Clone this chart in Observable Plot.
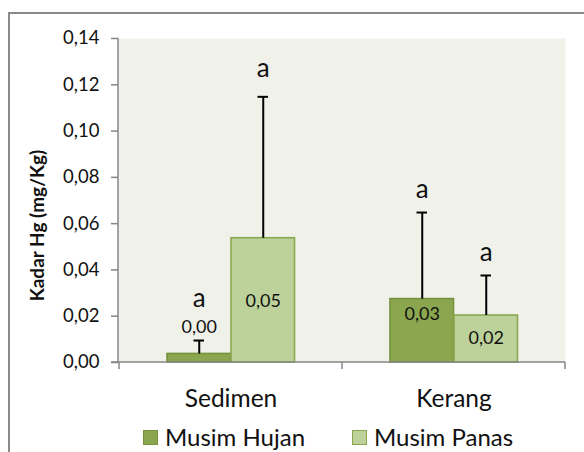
<!DOCTYPE html>
<html>
<head>
<meta charset="utf-8">
<script src="https://cdn.jsdelivr.net/npm/d3@7"></script>
<script src="https://cdn.jsdelivr.net/npm/@observablehq/plot@0.6"></script>
<style>
  html, body { margin: 0; padding: 0; background: #ffffff; }
  #wrap { position: relative; width: 584px; height: 452px; overflow: hidden; font-family: Lato, "Open Sans", sans-serif; }
  #outer { position: absolute; left: 8px; top: 12px; width: 600px; height: 460px; border-left: 2px solid #8a8a8a; border-top: 2px solid #8a8a8a; box-sizing: border-box; }
  #chart { position: absolute; left: 0; top: 0; }
  #legend { position: absolute; top: 425px; left: 0; width: 584px; height: 24px; }
  .item { position: absolute; top: 0; display: flex; align-items: center; font-size: 24px; color: #111; line-height: 24px; }
  .sw { width: 13px; height: 13px; border: 1.5px solid; margin-right: 7px; }
</style>
</head>
<body>
<div id="wrap">
  <div id="outer"></div>
  <div id="chart"></div>
  <div id="legend"></div>
</div>
<script>
// ---- data ----
const categories = ["Sedimen", "Kerang"];
const seriesNames = ["Musim Hujan", "Musim Panas"];
const hujanValues = [0.0037, 0.0274];
const panasValues = [0.0537, 0.0203];
const hujanSD = [0.0058, 0.0374];
const panasSD = [0.0611, 0.0173];
const hujanLetters = ["a", "a"];
const panasLetters = ["a", "a"];
// annotation anchors (in data units) as they sit in the picture
const hujanLetterAt = [0.0268, 0.0736];
const panasLetterAt = [0.1262, 0.0467];
const hujanLabelAt = [0.0153, 0.0207];
const panasLabelAt = [0.0264, 0.0104];
const yTicks = [0, 0.02, 0.04, 0.06, 0.08, 0.10, 0.12, 0.14];
const yTitle = "Kadar Hg (mg/Kg)";

// ---- styling ----
const colors = {"Musim Hujan": "#8aa74f", "Musim Panas": "#bdd19a"};
const strokes = {"Musim Hujan": "#76923c", "Musim Panas": "#8aa74f"};
const bg = "#f0f2ea";
const axisColor = "#868686";
const ink = "#111111";
const W = 584, H = 452, mL = 118, mR = 19, mT = 38, mB = 90;
const band = (W - mL - mR) / categories.length;
const barW = 64, outerGap = 48, capW = 11;
const fmt = d => d.toFixed(2).replace(".", ",");

const rows = [];
categories.forEach((c, i) => {
  rows.push({category: c, series: seriesNames[0], value: hujanValues[i], sd: hujanSD[i], letter: hujanLetters[i], letterAt: hujanLetterAt[i], labelAt: hujanLabelAt[i]});
  rows.push({category: c, series: seriesNames[1], value: panasValues[i], sd: panasSD[i], letter: panasLetters[i], letterAt: panasLetterAt[i], labelAt: panasLabelAt[i]});
});

function seriesMarks(name, k) {
  const data = rows.filter(d => d.series === name);
  const left = outerGap + k * barW;          // bar left within band
  const center = left + barW / 2;
  const dx = center - band / 2;
  return [
    Plot.barY(data, {x: "category", y: "value", fill: colors[name], stroke: strokes[name], strokeWidth: 1.6,
      insetLeft: left, insetRight: band - left - barW}),
    Plot.ruleX(data, {x: "category", y1: "value", y2: d => d.value + d.sd, dx, stroke: "#000", strokeWidth: 2}),
    Plot.tickY(data, {x: "category", y: d => d.value + d.sd, stroke: "#000", strokeWidth: 2,
      insetLeft: center - capW / 2, insetRight: band - center - capW / 2}),
    Plot.text(data, {x: "category", y: "labelAt", text: d => fmt(d.value), dx, fontSize: 18, fill: ink}),
    Plot.text(data, {x: "category", y: "letterAt", text: "letter", dx, dy: -2, fontSize: 26, fill: ink})
  ];
}

function axisLines(index, scales, values, dims) {
  const {x, y} = scales;
  const g = d3.create("svg:g").attr("stroke", axisColor).attr("stroke-width", 1.5).attr("fill", "none");
  const x0 = dims.marginLeft, x1 = dims.width - dims.marginRight;
  const y0 = y(0), yTop = y(yTicks[yTicks.length - 1]);
  const bw = x.bandwidth ? x.bandwidth() : (x1 - x0) / categories.length;
  g.append("line").attr("x1", x0).attr("x2", x0).attr("y1", yTop).attr("y2", y0);
  g.append("line").attr("x1", x0 - 7).attr("x2", x1).attr("y1", y0).attr("y2", y0);
  const edges = categories.map(c => x(c)).concat([x(categories[categories.length - 1]) + bw]);
  edges.forEach(e => g.append("line").attr("x1", e).attr("x2", e).attr("y1", y0).attr("y2", y0 + 7));
  return g.node();
}

const chart = Plot.plot({
  width: W, height: H,
  marginLeft: mL, marginRight: mR, marginTop: mT, marginBottom: mB,
  style: {fontFamily: "Lato, 'Open Sans', sans-serif", background: "transparent", color: ink, overflow: "visible"},
  x: {domain: categories, padding: 0, axis: null},
  y: {domain: [0, 0.14], axis: null},
  marks: [
    Plot.frame({fill: bg, stroke: "none"}),
    Plot.axisY({ticks: yTicks, tickFormat: fmt, tickSize: 7, tickPadding: 12, fontSize: 18.5, stroke: axisColor, strokeWidth: 1.5, fill: ink, label: null}),
    Plot.axisX({tickSize: 0, tickPadding: 27, fontSize: 24.5, fill: ink, label: null}),
    Plot.text([yTitle], {frameAnchor: "left", textAnchor: "middle", lineAnchor: "middle", text: d => d, rotate: -90, dx: -81, dy: 25, fontSize: 19, fontWeight: "bold", fill: ink}),
    ...seriesMarks(seriesNames[0], 0),
    ...seriesMarks(seriesNames[1], 1),
    axisLines
  ]
});
document.getElementById("chart").appendChild(chart);

// legend
const legend = document.getElementById("legend");
const legendX = [143, 352];
seriesNames.forEach((name, i) => {
  const it = document.createElement("div");
  it.className = "item";
  it.style.left = legendX[i] + "px";
  const sw = document.createElement("div");
  sw.className = "sw";
  sw.style.background = colors[name];
  sw.style.borderColor = strokes[name];
  const t = document.createElement("span");
  t.textContent = name;
  it.appendChild(sw); it.appendChild(t);
  legend.appendChild(it);
});
</script>
</body>
</html>
